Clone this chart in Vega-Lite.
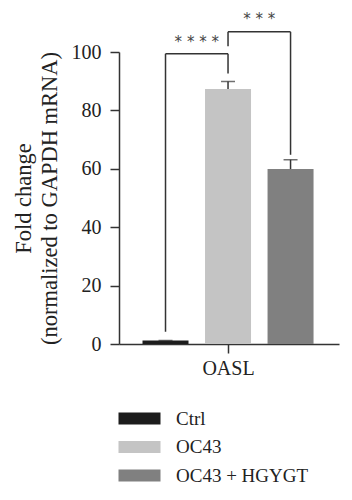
{
  "$schema": "https://vega.github.io/schema/vega-lite/v6.json",
  "autosize": {"type": "none"},
  "width": 220,
  "height": 292,
  "padding": {"left": 119, "top": 52, "right": 13, "bottom": 156},
  "background": "white",
  "config": {
    "view": {"stroke": null},
    "font": "Liberation Serif",
    "axis": {"domainColor": "#333", "domainWidth": 1.5, "tickColor": "#333", "tickWidth": 1.5, "labelColor": "#222", "titleColor": "#222", "labelFont": "Liberation Serif", "titleFont": "Liberation Serif", "grid": false},
    "legend": {"labelFont": "Liberation Serif", "labelColor": "#222"}
  },
  "datasets": {
    "bars": [
      {"group": "Ctrl", "pos": 1, "mean": 1.2, "upper": 1.2},
      {"group": "OC43", "pos": 2, "mean": 87.3, "upper": 89.9},
      {"group": "OC43 + HGYGT", "pos": 3, "mean": 59.9, "upper": 63.1}
    ],
    "brackets": [
      {"x": 1, "x2": 1, "y": 4.2, "y2": 99.4},
      {"x": 1, "x2": 2, "y": 99.4, "y2": 99.4},
      {"x": 2, "x2": 2, "y": 92.6, "y2": 99.4},
      {"x": 2, "x2": 2, "y": 102, "y2": 106.9},
      {"x": 2, "x2": 3, "y": 106.9, "y2": 106.9},
      {"x": 3, "x2": 3, "y": 64.8, "y2": 106.9}
    ],
    "stars": [
      {"x": 1.5, "y": 103.4, "label": "* * * *"},
      {"x": 2.5, "y": 111.2, "label": "* * *"}
    ]
  },
  "layer": [
    {
      "data": {"name": "bars"},
      "mark": {"type": "bar", "size": 46},
      "encoding": {
        "x": {"field": "pos", "type": "quantitative", "scale": {"domain": [0.336, 3.695], "nice": false, "zero": false},
          "axis": {"values": [2], "labelExpr": "'OASL'", "title": null, "tickSize": 9, "labelFontSize": 20, "labelPadding": 5}},
        "y": {"field": "mean", "type": "quantitative", "scale": {"domain": [0, 100], "nice": false},
          "axis": {"values": [0, 20, 40, 60, 80, 100], "tickSize": 9, "labelFontSize": 20, "labelPadding": 9, "title": ["Fold change", "(normalized to GAPDH mRNA)"], "titleFontSize": 22.5, "titleFontWeight": "normal", "titlePadding": 10, "titleLineHeight": 26}},
        "color": {"field": "group", "type": "nominal",
          "scale": {"domain": ["Ctrl", "OC43", "OC43 + HGYGT"], "range": ["#1c1c1c", "#c4c4c4", "#808080"]},
          "legend": {"orient": "none", "legendX": 11, "legendY": 357, "title": null, "symbolType": "M-3.5,-1H3.5V1H-3.5Z", "symbolSize": 144, "symbolStrokeWidth": 0, "labelFontSize": 19, "rowPadding": 8.5, "labelOffset": 27}}
      }
    },
    {
      "data": {"name": "bars"},
      "mark": {"type": "rule", "color": "#333", "strokeWidth": 1.5},
      "encoding": {
        "x": {"field": "pos", "type": "quantitative"},
        "y": {"field": "mean", "type": "quantitative"},
        "y2": {"field": "upper"}
      }
    },
    {
      "data": {"name": "bars"},
      "mark": {"type": "tick", "orient": "horizontal", "size": 14, "thickness": 1.5, "color": "#333"},
      "encoding": {
        "x": {"field": "pos", "type": "quantitative"},
        "y": {"field": "upper", "type": "quantitative"}
      }
    },
    {
      "data": {"name": "brackets"},
      "mark": {"type": "rule", "color": "#333", "strokeWidth": 1.5, "clip": false},
      "encoding": {
        "x": {"field": "x", "type": "quantitative"},
        "x2": {"field": "x2"},
        "y": {"field": "y", "type": "quantitative"},
        "y2": {"field": "y2"}
      }
    },
    {
      "data": {"name": "stars"},
      "mark": {"type": "text", "fontSize": 15, "color": "#444", "baseline": "middle", "font": "DejaVu Sans"},
      "encoding": {
        "x": {"field": "x", "type": "quantitative"},
        "y": {"field": "y", "type": "quantitative"},
        "text": {"field": "label"}
      }
    }
  ]
}
